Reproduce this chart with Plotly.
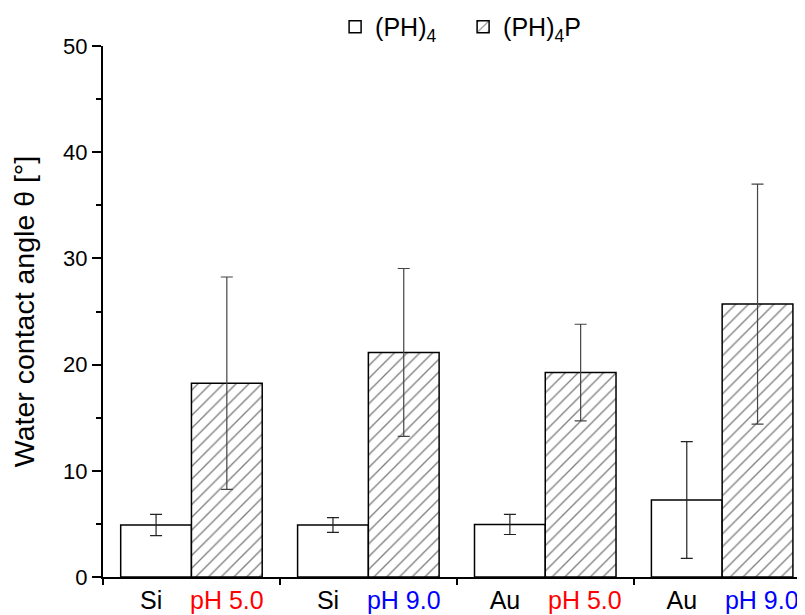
import plotly.graph_objects as go

categories = ["Si|pH 5.0", "Si|pH 9.0", "Au|pH 5.0", "Au|pH 9.0"]
substrates = ["Si", "Si", "Au", "Au"]
ph_labels = ["pH 5.0", "pH 9.0", "pH 5.0", "pH 9.0"]
ph_colors = ["#ff0000", "#0000ff", "#ff0000", "#0000ff"]

ph4_values = [4.9, 4.9, 4.95, 7.25]
ph4_errors = [1.0, 0.7, 0.95, 5.5]
ph4p_values = [18.25, 21.15, 19.25, 25.7]
ph4p_errors = [10.0, 7.9, 4.55, 11.3]

y_ticks = [0, 10, 20, 30, 40, 50]

FONT = "Liberation Sans, Arial, sans-serif"
NB = "\u00a0"

ticktext = [
    f"{NB*3}{s}{NB*4}<span style='color:{c}'>{p}</span>"
    for s, p, c in zip(substrates, ph_labels, ph_colors)
]

fig = go.Figure()
fig.add_trace(go.Bar(
    x=categories, y=ph4_values, name="(PH)<sub>4</sub>",
    marker=dict(color="white", line=dict(color="black", width=1.5)),
    error_y=dict(type="data", array=ph4_errors, visible=True,
                 color="#222", thickness=1.2, width=6),
))
fig.add_trace(go.Bar(
    x=categories, y=ph4p_values, name="(PH)<sub>4</sub>P",
    marker=dict(color="white", line=dict(color="black", width=1.5),
                pattern=dict(shape="/", size=9, solidity=0.15,
                             fgcolor="black", bgcolor="white")),
    error_y=dict(type="data", array=ph4p_errors, visible=True,
                 color="#444", thickness=1.2, width=6),
))

fig.update_layout(
    width=805, height=615,
    margin=dict(l=95, r=13, t=38, b=46, autoexpand=False),
    paper_bgcolor="white", plot_bgcolor="white",
    barmode="group", bargap=0.2, bargroupgap=0,
    font=dict(family=FONT, color="black", size=22),
    showlegend=True,
    legend=dict(orientation="h", x=0.333, xanchor="left", y=1.036, yanchor="middle",
                font=dict(size=25, family=FONT), bgcolor="rgba(0,0,0,0)",
                itemwidth=30, entrywidth=83, tracegroupgap=0),
    xaxis=dict(
        type="category", range=[-0.5, 3.44], automargin=False,
        tickmode="array", tickvals=categories, ticktext=ticktext,
        tickson="boundaries", ticks="outside", ticklen=6, tickwidth=1.5, tickcolor="black",
        showline=True, linecolor="black", linewidth=2, showgrid=False, zeroline=False,
        tickfont=dict(size=25, family=FONT, color="black"),
    ),
    yaxis=dict(
        range=[0, 50], tickmode="array", tickvals=y_ticks, automargin=False,
        ticks="outside", ticklen=9, tickwidth=1.5, tickcolor="black",
        minor=dict(dtick=5, ticks="outside", ticklen=5, tickwidth=1.5, tickcolor="black", showgrid=False),
        showline=True, linecolor="black", linewidth=2, showgrid=False, zeroline=False,
        tickfont=dict(size=22, family=FONT, color="black"),
        title=dict(text="Water contact angle θ [°]", font=dict(size=28.5, family=FONT), standoff=22),
    ),
)

fig.write_html("out.html")
